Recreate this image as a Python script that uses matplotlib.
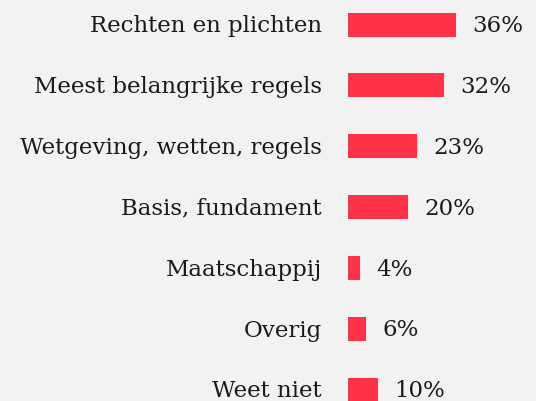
import matplotlib
matplotlib.use("Agg")
import matplotlib.pyplot as plt
from matplotlib.transforms import offset_copy

categories = ["Rechten en plichten", "Meest belangrijke regels", "Wetgeving, wetten, regels",
              "Basis, fundament", "Maatschappij", "Overig", "Weet niet"]
values = [36, 32, 23, 20, 4, 6, 10]
labels = ["36%", "32%", "23%", "20%", "4%", "6%", "10%"]

W, H = 536, 401
fig = plt.figure(figsize=(W / 100, H / 100), dpi=100, facecolor="#f2f2f2")
ax = fig.add_axes([348 / W, 0, (W - 348) / W, 1])
ax.set_facecolor("#f2f2f2")
ax.set_xlim(0, (W - 348) / 3.0)
row = 60.9
top = 24.5
ax.set_ylim((H - top) / row, -top / row)
for s in ax.spines.values():
    s.set_visible(False)
ax.set_xticks([])
ax.set_yticks([])

ypos = list(range(len(categories)))
ax.barh(ypos, values, height=24 / row, color="#ff3348", edgecolor="none")

font = dict(family="DejaVu Serif", size=16.5, color="#1a1a1a")
left_tr = offset_copy(ax.transData, fig=fig, x=-26, y=-7.5, units="dots")
for y, c in zip(ypos, categories):
    ax.text(0, y, c, transform=left_tr, ha="right", va="baseline", clip_on=False, **font)
right_tr = offset_copy(ax.transData, fig=fig, x=16, y=-7.5, units="dots")
for y, v, l in zip(ypos, values, labels):
    ax.text(v, y, l, transform=right_tr, ha="left", va="baseline", clip_on=False, **font)

fig.savefig("out.png", dpi=100, facecolor=fig.get_facecolor())
